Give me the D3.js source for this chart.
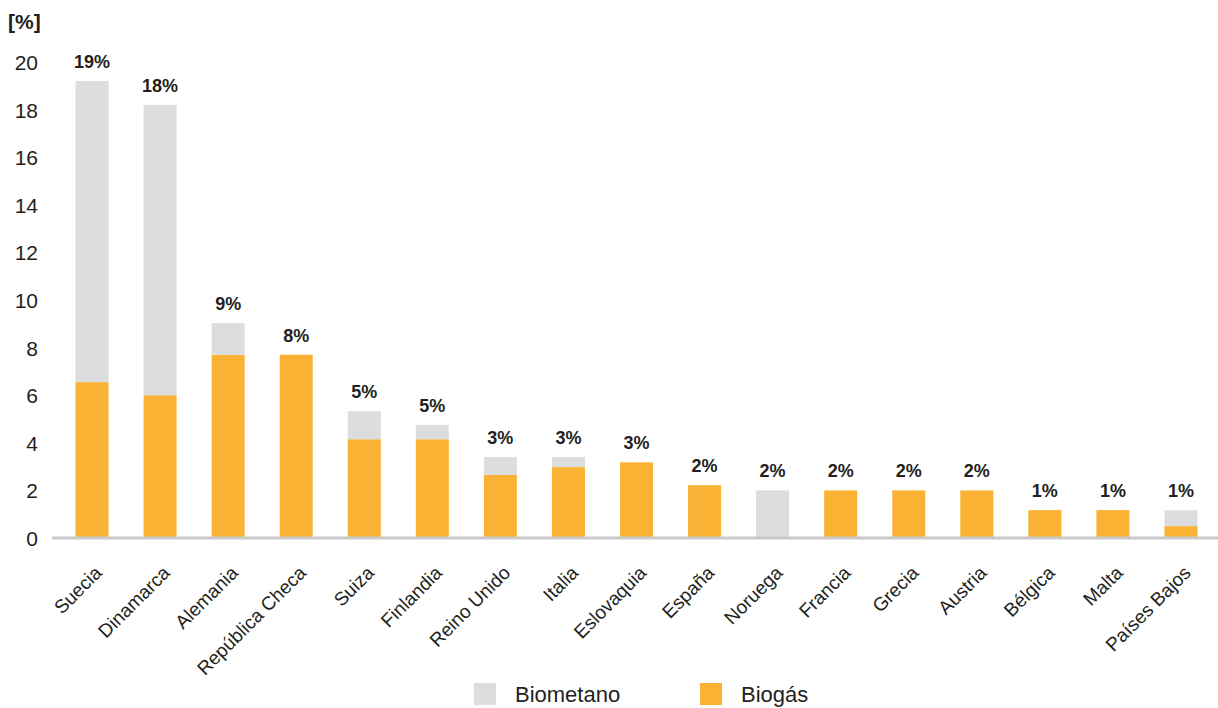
<!DOCTYPE html>
<html lang="es">
<head>
<meta charset="utf-8">
<script src="https://cdn.jsdelivr.net/npm/d3@7"></script>
<style>
  html, body { margin: 0; padding: 0; background: #fff; }
  svg { display: block; font-family: "Liberation Sans", Arial, sans-serif; }
</style>
</head>
<body>
<svg id="chart" width="1218" height="708"></svg>
<script>
// Países y cuotas (%) de biogás y biometano
const countries = ["Suecia", "Dinamarca", "Alemania", "República Checa", "Suiza", "Finlandia",
  "Reino Unido", "Italia", "Eslovaquia", "España", "Noruega", "Francia", "Grecia", "Austria",
  "Bélgica", "Malta", "Países Bajos"];
const biogas    = [6.55, 6.0, 7.7, 7.7, 4.15, 4.15, 2.65, 2.98, 3.18, 2.22, 0, 2.0, 2.0, 2.0, 1.17, 1.17, 0.5];
const biometano = [12.65, 12.2, 1.33, 0, 1.18, 0.6, 0.75, 0.42, 0, 0, 2.0, 0, 0, 0, 0, 0, 0.67];
const yTicks = [0, 2, 4, 6, 8, 10, 12, 14, 16, 18, 20];
const seriesNames = ["Biometano", "Biogás"];

const colors = { "Biogás": "#f9b233", "Biometano": "#dcdddf" };
const textColor = "#231f20";

const svg = d3.select("#chart");
const W = 1218, H = 708;
const y0 = 538, yTop = 62;

const rows = countries.map((c, i) => ({ country: c, "Biogás": biogas[i], "Biometano": biometano[i] }));

const x = d3.scaleBand()
  .domain(countries)
  .range([58.5, 1214.5])
  .paddingInner(0.515)
  .paddingOuter(0.25);

const y = d3.scaleLinear().domain([0, 20]).range([y0, yTop]);

// stacked: biogás at the bottom, biometano on top
const stack = d3.stack().keys(["Biogás", "Biometano"]);
const layers = stack(rows);

svg.append("g")
  .selectAll("g")
  .data(layers)
  .join("g")
  .attr("fill", d => colors[d.key])
  .selectAll("rect")
  .data(d => d)
  .join("rect")
  .attr("x", d => x(d.data.country))
  .attr("width", x.bandwidth())
  .attr("y", d => y(d[1]))
  .attr("height", d => y(d[0]) - y(d[1]));

// baseline
svg.append("line")
  .attr("x1", 52).attr("x2", W)
  .attr("y1", y(0)).attr("y2", y(0))
  .attr("stroke", "#c9c9c9")
  .attr("stroke-width", 3);

// y axis labels
const yAxis = d3.axisLeft(y).tickValues(yTicks).tickSize(0).tickPadding(0);
const yG = svg.append("g")
  .attr("transform", "translate(38,0)")
  .call(yAxis);
yG.select(".domain").remove();
yG.selectAll("text")
  .attr("font-size", 21)
  .attr("fill", textColor)
  .attr("font-family", "Liberation Sans, Arial, sans-serif")
  .attr("dy", "0.36em");

// unit label
svg.append("text")
  .attr("x", 8).attr("y", 29)
  .attr("font-size", 21)
  .attr("font-weight", "bold")
  .attr("fill", textColor)
  .text("[%]");

// total labels above bars
svg.append("g")
  .selectAll("text")
  .data(rows)
  .join("text")
  .attr("x", d => x(d.country) + x.bandwidth() / 2)
  .attr("y", d => y(d["Biogás"] + d["Biometano"]) - 13)
  .attr("text-anchor", "middle")
  .attr("font-size", 18)
  .attr("font-weight", "bold")
  .attr("fill", textColor)
  .text(d => Math.round(d["Biogás"] + d["Biometano"]) + "%");

// category labels, rotated
const xAxis = d3.axisBottom(x).tickSize(0).tickPadding(0);
const xG = svg.append("g")
  .attr("transform", `translate(0,${y0})`)
  .call(xAxis);
xG.select(".domain").remove();
xG.selectAll("text")
  .attr("font-size", 19)
  .attr("fill", textColor)
  .attr("font-family", "Liberation Sans, Arial, sans-serif")
  .attr("text-anchor", "end")
  .attr("dy", 0)
  .attr("transform", "translate(11,36) rotate(-45)");

// legend
const legend = svg.append("g");
const legendX = [474, 700];
seriesNames.forEach((name, i) => {
  const g = legend.append("g").attr("transform", `translate(${legendX[i]},683)`);
  g.append("rect").attr("width", 22).attr("height", 22).attr("fill", colors[name]);
  g.append("text")
    .attr("x", 41).attr("y", 19)
    .attr("font-size", 22)
    .attr("fill", textColor)
    .text(name);
});
</script>
</body>
</html>
